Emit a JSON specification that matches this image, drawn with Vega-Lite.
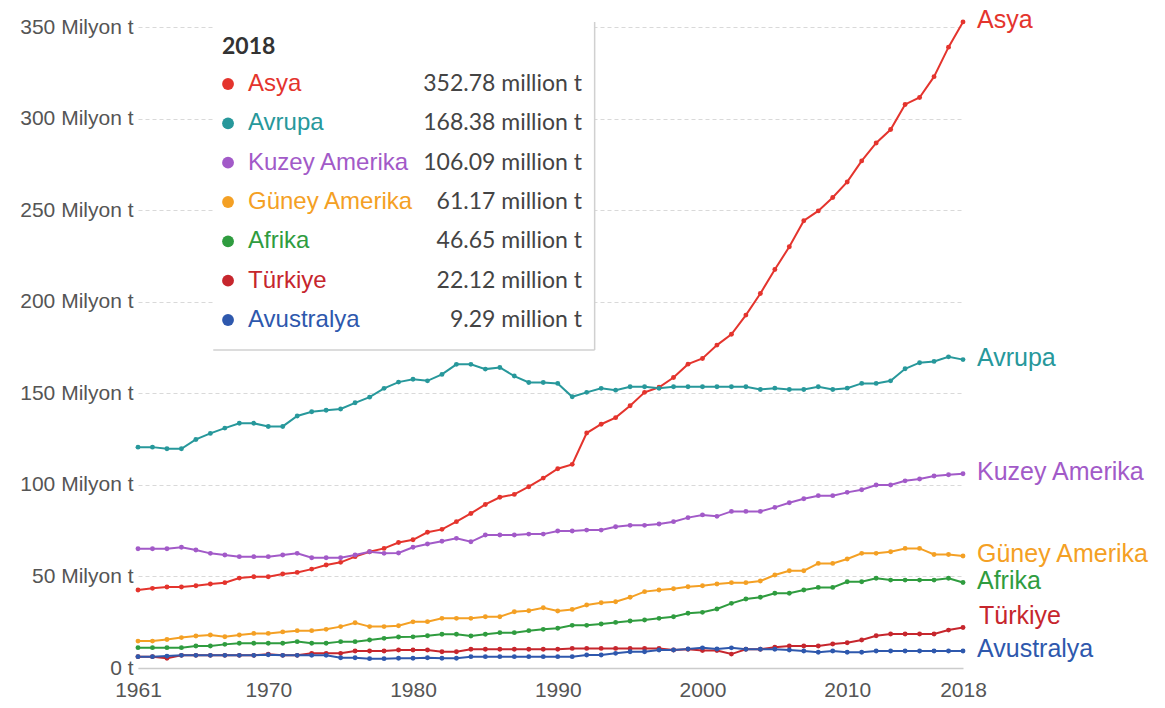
{
  "$schema": "https://vega.github.io/schema/vega-lite/v6.json",
  "width": 825,
  "height": 641,
  "autosize": {"type": "none"},
  "padding": {"left": 138, "top": 27, "right": 202, "bottom": 40},
  "background": "white",
  "config": {
    "view": {"stroke": null},
    "axis": {"labelFont": "Liberation Sans", "titleFont": "Liberation Sans"}
  },
  "data": {"values": [
    {"year":1961,"series":"Asya","value":42.6},{"year":1962,"series":"Asya","value":43.5},{"year":1963,"series":"Asya","value":44.2},{"year":1964,"series":"Asya","value":44.2},{"year":1965,"series":"Asya","value":44.9},{"year":1966,"series":"Asya","value":45.9},{"year":1967,"series":"Asya","value":46.6},{"year":1968,"series":"Asya","value":49.1},{"year":1969,"series":"Asya","value":49.8},{"year":1970,"series":"Asya","value":49.8},
    {"year":1971,"series":"Asya","value":51.3},{"year":1972,"series":"Asya","value":52.2},{"year":1973,"series":"Asya","value":54.0},{"year":1974,"series":"Asya","value":56.2},{"year":1975,"series":"Asya","value":57.7},{"year":1976,"series":"Asya","value":60.8},{"year":1977,"series":"Asya","value":63.5},{"year":1978,"series":"Asya","value":65.3},{"year":1979,"series":"Asya","value":68.5},{"year":1980,"series":"Asya","value":70.0},
    {"year":1981,"series":"Asya","value":74.1},{"year":1982,"series":"Asya","value":75.7},{"year":1983,"series":"Asya","value":79.9},{"year":1984,"series":"Asya","value":84.4},{"year":1985,"series":"Asya","value":89.3},{"year":1986,"series":"Asya","value":93.2},{"year":1987,"series":"Asya","value":94.8},{"year":1988,"series":"Asya","value":99.0},{"year":1989,"series":"Asya","value":103.7},{"year":1990,"series":"Asya","value":108.8},
    {"year":1991,"series":"Asya","value":111.2},{"year":1992,"series":"Asya","value":128.3},{"year":1993,"series":"Asya","value":133.1},{"year":1994,"series":"Asya","value":136.7},{"year":1995,"series":"Asya","value":143.2},{"year":1996,"series":"Asya","value":150.5},{"year":1997,"series":"Asya","value":153.3},{"year":1998,"series":"Asya","value":158.6},{"year":1999,"series":"Asya","value":165.9},{"year":2000,"series":"Asya","value":169.0},
    {"year":2001,"series":"Asya","value":176.3},{"year":2002,"series":"Asya","value":182.2},{"year":2003,"series":"Asya","value":192.7},{"year":2004,"series":"Asya","value":204.5},{"year":2005,"series":"Asya","value":217.6},{"year":2006,"series":"Asya","value":230.0},{"year":2007,"series":"Asya","value":244.2},{"year":2008,"series":"Asya","value":249.6},{"year":2009,"series":"Asya","value":256.9},{"year":2010,"series":"Asya","value":265.4},
    {"year":2011,"series":"Asya","value":276.9},{"year":2012,"series":"Asya","value":286.7},{"year":2013,"series":"Asya","value":294.0},{"year":2014,"series":"Asya","value":307.7},{"year":2015,"series":"Asya","value":311.5},{"year":2016,"series":"Asya","value":322.9},{"year":2017,"series":"Asya","value":339.0},{"year":2018,"series":"Asya","value":352.78},

    {"year":1961,"series":"Avrupa","value":120.6},{"year":1962,"series":"Avrupa","value":120.6},{"year":1963,"series":"Avrupa","value":119.7},{"year":1964,"series":"Avrupa","value":119.7},{"year":1965,"series":"Avrupa","value":124.8},{"year":1966,"series":"Avrupa","value":128.1},{"year":1967,"series":"Avrupa","value":131.0},{"year":1968,"series":"Avrupa","value":133.6},{"year":1969,"series":"Avrupa","value":133.6},{"year":1970,"series":"Avrupa","value":131.9},
    {"year":1971,"series":"Avrupa","value":131.9},{"year":1972,"series":"Avrupa","value":137.6},{"year":1973,"series":"Avrupa","value":139.9},{"year":1974,"series":"Avrupa","value":140.7},{"year":1975,"series":"Avrupa","value":141.4},{"year":1976,"series":"Avrupa","value":144.8},{"year":1977,"series":"Avrupa","value":147.9},{"year":1978,"series":"Avrupa","value":152.7},{"year":1979,"series":"Avrupa","value":156.1},{"year":1980,"series":"Avrupa","value":157.7},
    {"year":1981,"series":"Avrupa","value":156.8},{"year":1982,"series":"Avrupa","value":160.3},{"year":1983,"series":"Avrupa","value":165.8},{"year":1984,"series":"Avrupa","value":165.8},{"year":1985,"series":"Avrupa","value":163.2},{"year":1986,"series":"Avrupa","value":164.1},{"year":1987,"series":"Avrupa","value":159.4},{"year":1988,"series":"Avrupa","value":155.9},{"year":1989,"series":"Avrupa","value":155.9},{"year":1990,"series":"Avrupa","value":155.4},
    {"year":1991,"series":"Avrupa","value":148.1},{"year":1992,"series":"Avrupa","value":150.5},{"year":1993,"series":"Avrupa","value":152.7},{"year":1994,"series":"Avrupa","value":151.7},{"year":1995,"series":"Avrupa","value":153.6},{"year":1996,"series":"Avrupa","value":153.6},{"year":1997,"series":"Avrupa","value":152.7},{"year":1998,"series":"Avrupa","value":153.6},{"year":1999,"series":"Avrupa","value":153.6},{"year":2000,"series":"Avrupa","value":153.6},
    {"year":2001,"series":"Avrupa","value":153.6},{"year":2002,"series":"Avrupa","value":153.6},{"year":2003,"series":"Avrupa","value":153.6},{"year":2004,"series":"Avrupa","value":152.1},{"year":2005,"series":"Avrupa","value":152.8},{"year":2006,"series":"Avrupa","value":152.1},{"year":2007,"series":"Avrupa","value":152.1},{"year":2008,"series":"Avrupa","value":153.6},{"year":2009,"series":"Avrupa","value":152.1},{"year":2010,"series":"Avrupa","value":152.8},
    {"year":2011,"series":"Avrupa","value":155.4},{"year":2012,"series":"Avrupa","value":155.4},{"year":2013,"series":"Avrupa","value":156.8},{"year":2014,"series":"Avrupa","value":163.4},{"year":2015,"series":"Avrupa","value":166.7},{"year":2016,"series":"Avrupa","value":167.4},{"year":2017,"series":"Avrupa","value":169.9},{"year":2018,"series":"Avrupa","value":168.38},

    {"year":1961,"series":"Kuzey Amerika","value":65.1},{"year":1962,"series":"Kuzey Amerika","value":65.1},{"year":1963,"series":"Kuzey Amerika","value":65.1},{"year":1964,"series":"Kuzey Amerika","value":65.9},{"year":1965,"series":"Kuzey Amerika","value":64.4},{"year":1966,"series":"Kuzey Amerika","value":62.6},{"year":1967,"series":"Kuzey Amerika","value":61.7},{"year":1968,"series":"Kuzey Amerika","value":60.8},{"year":1969,"series":"Kuzey Amerika","value":60.8},{"year":1970,"series":"Kuzey Amerika","value":60.8},
    {"year":1971,"series":"Kuzey Amerika","value":61.7},{"year":1972,"series":"Kuzey Amerika","value":62.6},{"year":1973,"series":"Kuzey Amerika","value":60.2},{"year":1974,"series":"Kuzey Amerika","value":60.2},{"year":1975,"series":"Kuzey Amerika","value":60.2},{"year":1976,"series":"Kuzey Amerika","value":61.7},{"year":1977,"series":"Kuzey Amerika","value":63.5},{"year":1978,"series":"Kuzey Amerika","value":62.6},{"year":1979,"series":"Kuzey Amerika","value":62.8},{"year":1980,"series":"Kuzey Amerika","value":65.9},
    {"year":1981,"series":"Kuzey Amerika","value":67.7},{"year":1982,"series":"Kuzey Amerika","value":69.2},{"year":1983,"series":"Kuzey Amerika","value":70.8},{"year":1984,"series":"Kuzey Amerika","value":68.9},{"year":1985,"series":"Kuzey Amerika","value":72.6},{"year":1986,"series":"Kuzey Amerika","value":72.6},{"year":1987,"series":"Kuzey Amerika","value":72.6},{"year":1988,"series":"Kuzey Amerika","value":73.1},{"year":1989,"series":"Kuzey Amerika","value":73.1},{"year":1990,"series":"Kuzey Amerika","value":74.8},
    {"year":1991,"series":"Kuzey Amerika","value":74.8},{"year":1992,"series":"Kuzey Amerika","value":75.3},{"year":1993,"series":"Kuzey Amerika","value":75.3},{"year":1994,"series":"Kuzey Amerika","value":77.1},{"year":1995,"series":"Kuzey Amerika","value":77.9},{"year":1996,"series":"Kuzey Amerika","value":77.9},{"year":1997,"series":"Kuzey Amerika","value":78.6},{"year":1998,"series":"Kuzey Amerika","value":79.9},{"year":1999,"series":"Kuzey Amerika","value":82.1},{"year":2000,"series":"Kuzey Amerika","value":83.6},
    {"year":2001,"series":"Kuzey Amerika","value":82.8},{"year":2002,"series":"Kuzey Amerika","value":85.5},{"year":2003,"series":"Kuzey Amerika","value":85.5},{"year":2004,"series":"Kuzey Amerika","value":85.5},{"year":2005,"series":"Kuzey Amerika","value":87.7},{"year":2006,"series":"Kuzey Amerika","value":90.2},{"year":2007,"series":"Kuzey Amerika","value":92.4},{"year":2008,"series":"Kuzey Amerika","value":94.1},{"year":2009,"series":"Kuzey Amerika","value":94.1},{"year":2010,"series":"Kuzey Amerika","value":95.9},
    {"year":2011,"series":"Kuzey Amerika","value":97.3},{"year":2012,"series":"Kuzey Amerika","value":99.9},{"year":2013,"series":"Kuzey Amerika","value":99.9},{"year":2014,"series":"Kuzey Amerika","value":102.2},{"year":2015,"series":"Kuzey Amerika","value":103.2},{"year":2016,"series":"Kuzey Amerika","value":104.8},{"year":2017,"series":"Kuzey Amerika","value":105.5},{"year":2018,"series":"Kuzey Amerika","value":106.09},

    {"year":1961,"series":"Güney Amerika","value":14.7},{"year":1962,"series":"Güney Amerika","value":14.7},{"year":1963,"series":"Güney Amerika","value":15.6},{"year":1964,"series":"Güney Amerika","value":16.6},{"year":1965,"series":"Güney Amerika","value":17.5},{"year":1966,"series":"Güney Amerika","value":18.0},{"year":1967,"series":"Güney Amerika","value":17.1},{"year":1968,"series":"Güney Amerika","value":18.0},{"year":1969,"series":"Güney Amerika","value":18.9},{"year":1970,"series":"Güney Amerika","value":18.9},
    {"year":1971,"series":"Güney Amerika","value":19.7},{"year":1972,"series":"Güney Amerika","value":20.4},{"year":1973,"series":"Güney Amerika","value":20.4},{"year":1974,"series":"Güney Amerika","value":21.1},{"year":1975,"series":"Güney Amerika","value":22.6},{"year":1976,"series":"Güney Amerika","value":24.7},{"year":1977,"series":"Güney Amerika","value":22.6},{"year":1978,"series":"Güney Amerika","value":22.6},{"year":1979,"series":"Güney Amerika","value":23.1},{"year":1980,"series":"Güney Amerika","value":25.2},
    {"year":1981,"series":"Güney Amerika","value":25.3},{"year":1982,"series":"Güney Amerika","value":27.1},{"year":1983,"series":"Güney Amerika","value":27.1},{"year":1984,"series":"Güney Amerika","value":27.1},{"year":1985,"series":"Güney Amerika","value":28.0},{"year":1986,"series":"Güney Amerika","value":28.0},{"year":1987,"series":"Güney Amerika","value":30.7},{"year":1988,"series":"Güney Amerika","value":31.3},{"year":1989,"series":"Güney Amerika","value":32.9},{"year":1990,"series":"Güney Amerika","value":31.1},
    {"year":1991,"series":"Güney Amerika","value":32.0},{"year":1992,"series":"Güney Amerika","value":34.4},{"year":1993,"series":"Güney Amerika","value":35.6},{"year":1994,"series":"Güney Amerika","value":36.2},{"year":1995,"series":"Güney Amerika","value":38.6},{"year":1996,"series":"Güney Amerika","value":41.7},{"year":1997,"series":"Güney Amerika","value":42.6},{"year":1998,"series":"Güney Amerika","value":43.3},{"year":1999,"series":"Güney Amerika","value":44.4},{"year":2000,"series":"Güney Amerika","value":44.9},
    {"year":2001,"series":"Güney Amerika","value":45.9},{"year":2002,"series":"Güney Amerika","value":46.6},{"year":2003,"series":"Güney Amerika","value":46.6},{"year":2004,"series":"Güney Amerika","value":47.5},{"year":2005,"series":"Güney Amerika","value":50.8},{"year":2006,"series":"Güney Amerika","value":53.1},{"year":2007,"series":"Güney Amerika","value":53.1},{"year":2008,"series":"Güney Amerika","value":57.1},{"year":2009,"series":"Güney Amerika","value":57.1},{"year":2010,"series":"Güney Amerika","value":59.5},
    {"year":2011,"series":"Güney Amerika","value":62.6},{"year":2012,"series":"Güney Amerika","value":62.6},{"year":2013,"series":"Güney Amerika","value":63.5},{"year":2014,"series":"Güney Amerika","value":65.3},{"year":2015,"series":"Güney Amerika","value":65.3},{"year":2016,"series":"Güney Amerika","value":62.0},{"year":2017,"series":"Güney Amerika","value":62.0},{"year":2018,"series":"Güney Amerika","value":61.17},

    {"year":1961,"series":"Afrika","value":11.1},{"year":1962,"series":"Afrika","value":11.1},{"year":1963,"series":"Afrika","value":11.1},{"year":1964,"series":"Afrika","value":11.1},{"year":1965,"series":"Afrika","value":12.0},{"year":1966,"series":"Afrika","value":12.0},{"year":1967,"series":"Afrika","value":12.9},{"year":1968,"series":"Afrika","value":13.5},{"year":1969,"series":"Afrika","value":13.5},{"year":1970,"series":"Afrika","value":13.5},
    {"year":1971,"series":"Afrika","value":13.5},{"year":1972,"series":"Afrika","value":14.4},{"year":1973,"series":"Afrika","value":13.5},{"year":1974,"series":"Afrika","value":13.5},{"year":1975,"series":"Afrika","value":14.4},{"year":1976,"series":"Afrika","value":14.4},{"year":1977,"series":"Afrika","value":15.3},{"year":1978,"series":"Afrika","value":16.2},{"year":1979,"series":"Afrika","value":16.9},{"year":1980,"series":"Afrika","value":17.0},
    {"year":1981,"series":"Afrika","value":17.6},{"year":1982,"series":"Afrika","value":18.4},{"year":1983,"series":"Afrika","value":18.4},{"year":1984,"series":"Afrika","value":17.5},{"year":1985,"series":"Afrika","value":18.4},{"year":1986,"series":"Afrika","value":19.3},{"year":1987,"series":"Afrika","value":19.3},{"year":1988,"series":"Afrika","value":20.4},{"year":1989,"series":"Afrika","value":21.1},{"year":1990,"series":"Afrika","value":21.7},
    {"year":1991,"series":"Afrika","value":23.3},{"year":1992,"series":"Afrika","value":23.3},{"year":1993,"series":"Afrika","value":24.0},{"year":1994,"series":"Afrika","value":24.9},{"year":1995,"series":"Afrika","value":25.7},{"year":1996,"series":"Afrika","value":26.2},{"year":1997,"series":"Afrika","value":27.1},{"year":1998,"series":"Afrika","value":28.0},{"year":1999,"series":"Afrika","value":29.9},{"year":2000,"series":"Afrika","value":30.4},
    {"year":2001,"series":"Afrika","value":32.2},{"year":2002,"series":"Afrika","value":35.3},{"year":2003,"series":"Afrika","value":37.7},{"year":2004,"series":"Afrika","value":38.6},{"year":2005,"series":"Afrika","value":40.8},{"year":2006,"series":"Afrika","value":40.8},{"year":2007,"series":"Afrika","value":42.6},{"year":2008,"series":"Afrika","value":44.0},{"year":2009,"series":"Afrika","value":44.0},{"year":2010,"series":"Afrika","value":47.1},
    {"year":2011,"series":"Afrika","value":47.1},{"year":2012,"series":"Afrika","value":49.0},{"year":2013,"series":"Afrika","value":48.0},{"year":2014,"series":"Afrika","value":48.0},{"year":2015,"series":"Afrika","value":48.0},{"year":2016,"series":"Afrika","value":48.0},{"year":2017,"series":"Afrika","value":49.0},{"year":2018,"series":"Afrika","value":46.65},

    {"year":1961,"series":"Türkiye","value":6.2},{"year":1962,"series":"Türkiye","value":6.2},{"year":1963,"series":"Türkiye","value":5.3},{"year":1964,"series":"Türkiye","value":6.9},{"year":1965,"series":"Türkiye","value":6.9},{"year":1966,"series":"Türkiye","value":6.9},{"year":1967,"series":"Türkiye","value":6.9},{"year":1968,"series":"Türkiye","value":6.9},{"year":1969,"series":"Türkiye","value":6.9},{"year":1970,"series":"Türkiye","value":7.5},
    {"year":1971,"series":"Türkiye","value":6.9},{"year":1972,"series":"Türkiye","value":6.9},{"year":1973,"series":"Türkiye","value":8.0},{"year":1974,"series":"Türkiye","value":8.0},{"year":1975,"series":"Türkiye","value":8.0},{"year":1976,"series":"Türkiye","value":9.3},{"year":1977,"series":"Türkiye","value":9.3},{"year":1978,"series":"Türkiye","value":9.3},{"year":1979,"series":"Türkiye","value":9.8},{"year":1980,"series":"Türkiye","value":9.8},
    {"year":1981,"series":"Türkiye","value":9.8},{"year":1982,"series":"Türkiye","value":8.9},{"year":1983,"series":"Türkiye","value":8.9},{"year":1984,"series":"Türkiye","value":10.2},{"year":1985,"series":"Türkiye","value":10.2},{"year":1986,"series":"Türkiye","value":10.2},{"year":1987,"series":"Türkiye","value":10.2},{"year":1988,"series":"Türkiye","value":10.2},{"year":1989,"series":"Türkiye","value":10.2},{"year":1990,"series":"Türkiye","value":10.2},
    {"year":1991,"series":"Türkiye","value":10.7},{"year":1992,"series":"Türkiye","value":10.7},{"year":1993,"series":"Türkiye","value":10.7},{"year":1994,"series":"Türkiye","value":10.7},{"year":1995,"series":"Türkiye","value":10.7},{"year":1996,"series":"Türkiye","value":10.7},{"year":1997,"series":"Türkiye","value":10.7},{"year":1998,"series":"Türkiye","value":9.8},{"year":1999,"series":"Türkiye","value":10.2},{"year":2000,"series":"Türkiye","value":9.5},
    {"year":2001,"series":"Türkiye","value":9.5},{"year":2002,"series":"Türkiye","value":7.6},{"year":2003,"series":"Türkiye","value":10.2},{"year":2004,"series":"Türkiye","value":10.2},{"year":2005,"series":"Türkiye","value":11.3},{"year":2006,"series":"Türkiye","value":12.0},{"year":2007,"series":"Türkiye","value":12.0},{"year":2008,"series":"Türkiye","value":12.0},{"year":2009,"series":"Türkiye","value":13.1},{"year":2010,"series":"Türkiye","value":13.8},
    {"year":2011,"series":"Türkiye","value":15.3},{"year":2012,"series":"Türkiye","value":17.6},{"year":2013,"series":"Türkiye","value":18.6},{"year":2014,"series":"Türkiye","value":18.6},{"year":2015,"series":"Türkiye","value":18.6},{"year":2016,"series":"Türkiye","value":18.6},{"year":2017,"series":"Türkiye","value":20.7},{"year":2018,"series":"Türkiye","value":22.12},

    {"year":1961,"series":"Avustralya","value":6.2},{"year":1962,"series":"Avustralya","value":6.2},{"year":1963,"series":"Avustralya","value":6.5},{"year":1964,"series":"Avustralya","value":6.9},{"year":1965,"series":"Avustralya","value":6.9},{"year":1966,"series":"Avustralya","value":6.9},{"year":1967,"series":"Avustralya","value":6.9},{"year":1968,"series":"Avustralya","value":6.9},{"year":1969,"series":"Avustralya","value":6.9},{"year":1970,"series":"Avustralya","value":7.2},
    {"year":1971,"series":"Avustralya","value":6.9},{"year":1972,"series":"Avustralya","value":6.9},{"year":1973,"series":"Avustralya","value":6.9},{"year":1974,"series":"Avustralya","value":6.9},{"year":1975,"series":"Avustralya","value":5.6},{"year":1976,"series":"Avustralya","value":5.6},{"year":1977,"series":"Avustralya","value":5.1},{"year":1978,"series":"Avustralya","value":5.1},{"year":1979,"series":"Avustralya","value":5.3},{"year":1980,"series":"Avustralya","value":5.3},
    {"year":1981,"series":"Avustralya","value":5.6},{"year":1982,"series":"Avustralya","value":5.3},{"year":1983,"series":"Avustralya","value":5.3},{"year":1984,"series":"Avustralya","value":6.2},{"year":1985,"series":"Avustralya","value":6.2},{"year":1986,"series":"Avustralya","value":6.2},{"year":1987,"series":"Avustralya","value":6.2},{"year":1988,"series":"Avustralya","value":6.2},{"year":1989,"series":"Avustralya","value":6.2},{"year":1990,"series":"Avustralya","value":6.2},
    {"year":1991,"series":"Avustralya","value":6.2},{"year":1992,"series":"Avustralya","value":7.1},{"year":1993,"series":"Avustralya","value":7.1},{"year":1994,"series":"Avustralya","value":8.0},{"year":1995,"series":"Avustralya","value":8.9},{"year":1996,"series":"Avustralya","value":8.9},{"year":1997,"series":"Avustralya","value":9.8},{"year":1998,"series":"Avustralya","value":9.8},{"year":1999,"series":"Avustralya","value":10.4},{"year":2000,"series":"Avustralya","value":11.0},
    {"year":2001,"series":"Avustralya","value":10.4},{"year":2002,"series":"Avustralya","value":11.0},{"year":2003,"series":"Avustralya","value":10.2},{"year":2004,"series":"Avustralya","value":10.2},{"year":2005,"series":"Avustralya","value":10.2},{"year":2006,"series":"Avustralya","value":9.8},{"year":2007,"series":"Avustralya","value":9.3},{"year":2008,"series":"Avustralya","value":8.6},{"year":2009,"series":"Avustralya","value":9.3},{"year":2010,"series":"Avustralya","value":8.6},
    {"year":2011,"series":"Avustralya","value":8.6},{"year":2012,"series":"Avustralya","value":9.3},{"year":2013,"series":"Avustralya","value":9.3},{"year":2014,"series":"Avustralya","value":9.3},{"year":2015,"series":"Avustralya","value":9.3},{"year":2016,"series":"Avustralya","value":9.3},{"year":2017,"series":"Avustralya","value":9.3},{"year":2018,"series":"Avustralya","value":9.29}
  ]},
  "layer": [
    {
      "encoding": {
        "x": {"field": "year", "type": "quantitative",
              "scale": {"domain": [1961, 2018], "nice": false, "zero": false},
              "axis": {"values": [1961, 1970, 1980, 1990, 2000, 2010, 2018], "format": "d", "title": null,
                       "grid": false, "ticks": false, "domain": true, "domainColor": "#cccccc", "domainWidth": 1.5,
                       "labelFlush": false, "labelOverlap": false,
                       "labelFontSize": 21, "labelColor": "#555555", "labelPadding": 11}},
        "y": {"field": "value", "type": "quantitative",
              "scale": {"domain": [0, 350], "nice": false},
              "axis": {"values": [0, 50, 100, 150, 200, 250, 300, 350], "title": null,
                       "labelExpr": "datum.value == 0 ? '0 t' : datum.value + ' Milyon t'",
                       "grid": true, "gridDash": [4, 3], "gridColor": "#d9d9d9", "gridWidth": 1,
                       "ticks": false, "domain": false, "labelFlush": false, "labelOverlap": false,
                       "labelFontSize": 21, "labelColor": "#555555", "labelPadding": 5}},
        "color": {"field": "series", "type": "nominal", "legend": null,
                  "scale": {"domain": ["Asya", "Avrupa", "Kuzey Amerika", "Güney Amerika", "Afrika", "Türkiye", "Avustralya"],
                            "range": ["#e4342d", "#27989b", "#a25ac8", "#f4a024", "#2f9c3f", "#c6262d", "#2e58ad"]}}
      },
      "layer": [
        {"mark": {"type": "line", "strokeWidth": 2}},
        {"mark": {"type": "circle", "size": 24, "opacity": 1}},
        {"transform": [{"filter": "datum.year == 2018 && datum.series != 'Türkiye'"}],
         "mark": {"type": "text", "align": "left", "baseline": "middle", "dx": 14, "dy": -2, "fontSize": 25, "font": "Liberation Sans"},
         "encoding": {"text": {"field": "series"}}},
        {"transform": [{"filter": "datum.year == 2018 && datum.series == 'Türkiye'"}],
         "mark": {"type": "text", "align": "left", "baseline": "middle", "dx": 16, "dy": -11, "fontSize": 25, "font": "Liberation Sans"},
         "encoding": {"text": {"field": "series"}}},
        {"transform": [{"filter": "datum.year == 2018 && datum.series == 'Asya'"}],
         "mark": {"type": "rect", "fill": "white", "stroke": null},
         "encoding": {"x": {"datum": 1966.2}, "x2": {"datum": 1992.55}, "y": {"datum": 352.7}, "y2": {"datum": 173.6}, "color": {"value": "white"}}},
        {"transform": [{"filter": "datum.year == 2018 && datum.series == 'Asya'"}],
         "mark": {"type": "rule", "strokeWidth": 1.5},
         "encoding": {"x": {"datum": 1992.55}, "y": {"datum": 352.7}, "y2": {"datum": 173.6}, "color": {"value": "#d0d0d0"}}},
        {"transform": [{"filter": "datum.year == 2018 && datum.series == 'Asya'"}],
         "mark": {"type": "rule", "strokeWidth": 1.5},
         "encoding": {"x": {"datum": 1966.2}, "x2": {"datum": 1992.55}, "y": {"datum": 173.6}, "color": {"value": "#d0d0d0"}}},
        {"transform": [{"filter": "datum.year == 2018 && datum.series == 'Asya'"}],
         "mark": {"type": "text", "align": "left", "baseline": "middle", "fontSize": 23, "font": "Lato", "fontWeight": "bold"},
         "encoding": {"x": {"datum": 1966.8}, "y": {"datum": 339}, "text": {"field": "year", "type": "quantitative", "format": "d"}, "color": {"value": "#333333"}}}
      ]
    },
    {
      "transform": [
        {"filter": "datum.year == 2018"},
        {"calculate": "format(datum.value, '.2f') + ' million t'", "as": "label"}
      ],
      "encoding": {
        "y": {"field": "series", "type": "nominal", "axis": null,
              "scale": {"type": "point", "domain": ["Asya", "Avrupa", "Kuzey Amerika", "Güney Amerika", "Afrika", "Türkiye", "Avustralya"], "range": [57, 293], "padding": 0}},
        "color": {"field": "series", "type": "nominal", "legend": null}
      },
      "layer": [
        {"mark": {"type": "circle", "size": 140, "opacity": 1},
         "encoding": {"x": {"datum": 1967.22}}},
        {"mark": {"type": "text", "align": "left", "baseline": "middle", "fontSize": 24, "font": "Liberation Sans"},
         "encoding": {"x": {"datum": 1968.6}, "text": {"field": "series"}}},
        {"mark": {"type": "text", "align": "right", "baseline": "middle", "fontSize": 23, "font": "Lato"},
         "encoding": {"x": {"datum": 1991.68}, "text": {"field": "label"}, "color": {"value": "#444444"}}}
      ]
    }
  ],
  "resolve": {"scale": {"y": "independent"}}
}
